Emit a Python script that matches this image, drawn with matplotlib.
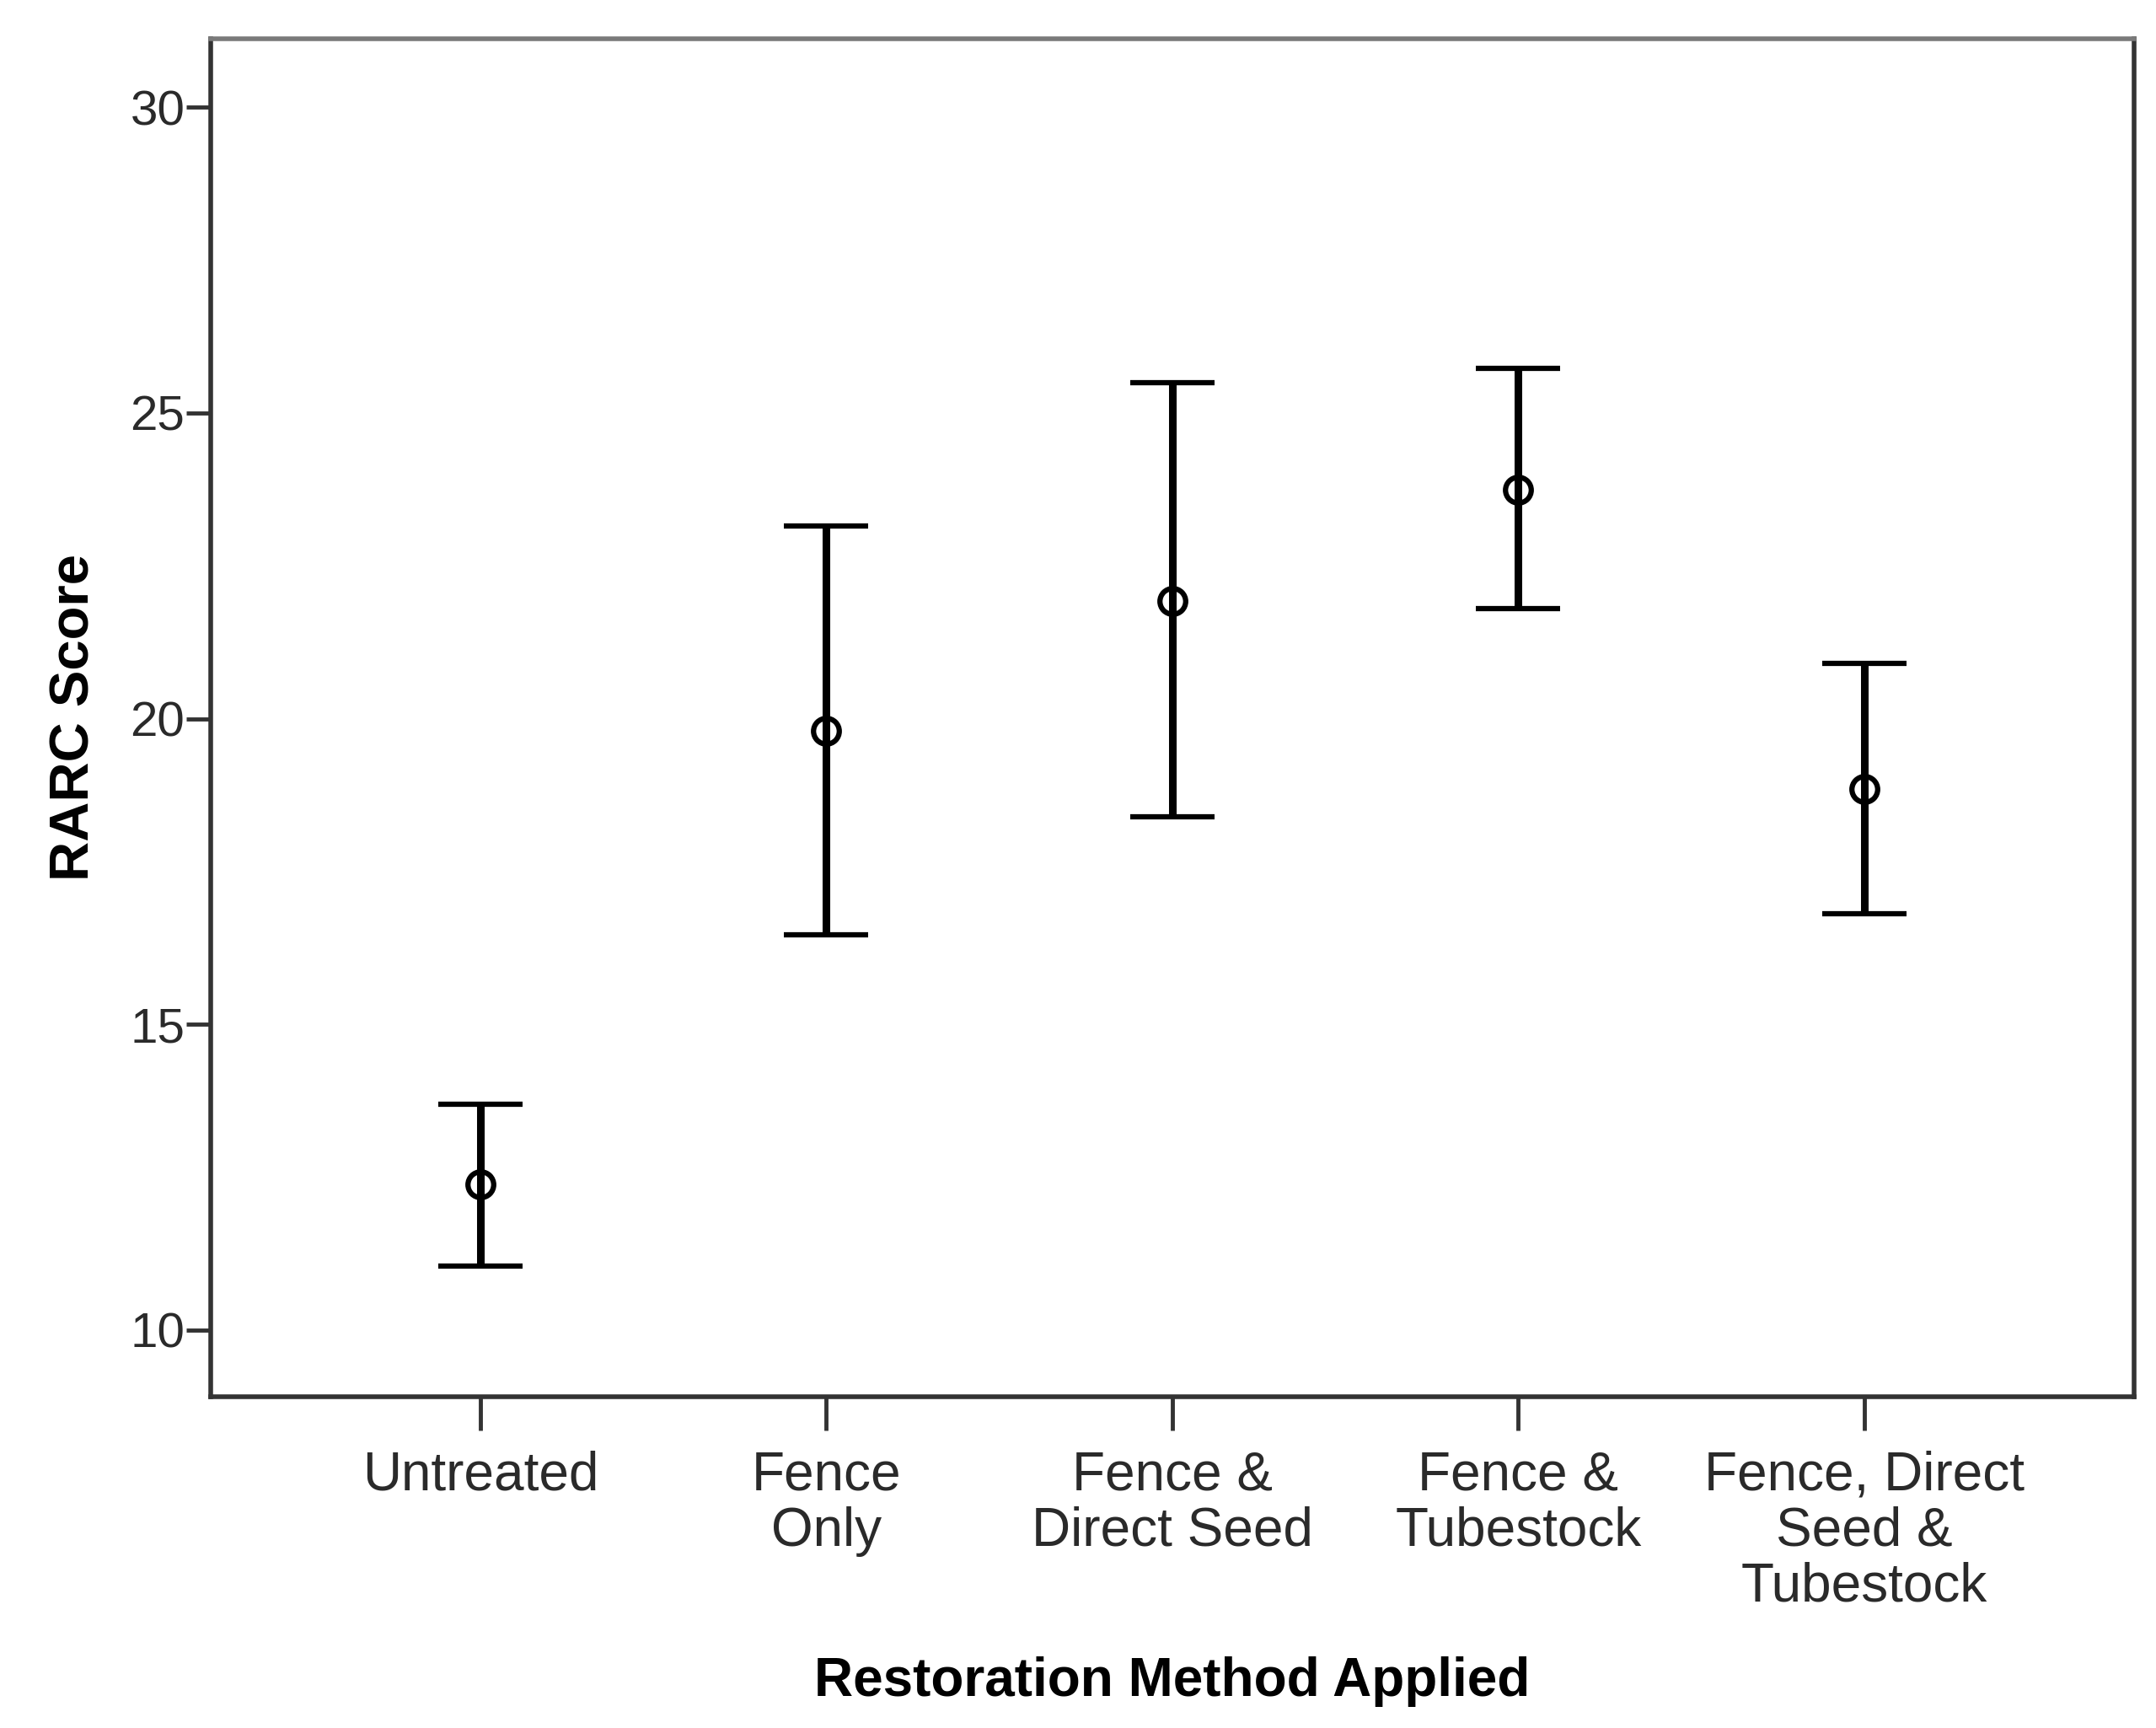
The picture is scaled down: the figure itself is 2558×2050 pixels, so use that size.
import matplotlib
matplotlib.use('Agg')
import matplotlib.pyplot as plt
import numpy as np

plt.rcParams['font.family'] = ['Liberation Sans', 'DejaVu Sans']

# data (mean and 95% CI ends)
methods = ['Untreated', 'Fence\nOnly', 'Fence &\nDirect Seed', 'Fence &\nTubestock',
           'Fence, Direct\nSeed &\nTubestock']
means = [12.38, 19.8, 21.93, 23.75, 18.85]
upper = [13.69, 23.15, 25.5, 25.73, 20.9]
lower = [11.05, 16.47, 18.4, 21.8, 16.81]

x = np.arange(len(methods))
means_arr = np.array(means)
yerr = [means_arr - np.array(lower), np.array(upper) - means_arr]

fig = plt.figure(figsize=(25.58, 20.5), dpi=100)
ax = fig.add_axes([0.0977, 0.1917, 0.8921, 0.7859])

ax.errorbar(x, means, yerr=yerr, fmt='o', color='black', ecolor='black',
            elinewidth=6.5, capsize=36, capthick=6.5,
            markersize=22, markerfacecolor='none', markeredgewidth=4.5, zorder=3)

ax.set_xlim(-0.78, 4.78)
ax.set_ylim(8.91, 31.12)
ax.set_yticks([10, 15, 20, 25, 30])
ax.set_xticks(x)
ax.set_xticklabels(methods, linespacing=1.12)

for side in ['left', 'bottom', 'right']:
    ax.spines[side].set_linewidth(4)
    ax.spines[side].set_color('#333333')
ax.spines['top'].set_linewidth(4)
ax.spines['top'].set_color('#7a7a7a')

ax.tick_params(axis='y', direction='out', length=21, width=3.5, pad=1,
               labelsize=42, colors='#333333', labelcolor='#2a2a2a')
ax.tick_params(axis='x', direction='out', length=29, width=3.5, pad=17,
               labelsize=46, colors='#333333', labelcolor='#2a2a2a')

ax.set_ylabel('RARC Score', fontsize=47, fontweight='bold', labelpad=26)
ax.set_xlabel('Restoration Method Applied', fontsize=46, fontweight='bold', labelpad=38)

fig.savefig('out.png', dpi=100, facecolor='white')
